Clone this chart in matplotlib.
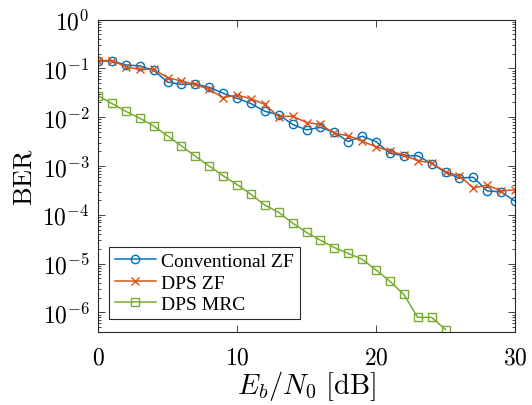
import numpy as np
import matplotlib
matplotlib.use("Agg")
import matplotlib.pyplot as plt
from matplotlib.ticker import LogLocator, NullFormatter, FixedLocator, FuncFormatter

ebn0 = list(range(0, 31))
conv_zf_log = [-0.85, -0.85, -0.93, -0.95, -1.04, -1.28, -1.33, -1.32, -1.39, -1.51, -1.61,
               -1.72, -1.88, -1.95, -2.15, -2.26, -2.21, -2.31, -2.50, -2.39, -2.50,
               -2.74, -2.79, -2.79, -2.95, -3.13, -3.25, -3.23, -3.51, -3.53, -3.72]
dps_zf_log = [-0.84, -0.84, -0.97, -1.02, -1.02, -1.19, -1.26, -1.33, -1.43, -1.60, -1.55,
              -1.62, -1.74, -1.99, -1.98, -2.11, -2.15, -2.33, -2.38, -2.49, -2.61,
              -2.69, -2.78, -2.89, -2.94, -3.12, -3.20, -3.45, -3.39, -3.51, -3.49]
dps_mrc_log = [-1.56, -1.72, -1.88, -2.02, -2.18, -2.38, -2.59, -2.80, -3.00, -3.20, -3.38,
               -3.58, -3.80, -3.95, -4.17, -4.36, -4.52, -4.67, -4.79, -4.91, -5.13,
               -5.36, -5.63, -6.10, -6.10, -6.35]
labels = ["Conventional ZF", "DPS ZF", "DPS MRC"]
colors = ["#0072BD", "#D95319", "#77AC30"]
markers = ["o", "x", "s"]
xticks = [0, 10, 20, 30]
yexps = list(range(-6, 1))

plt.rcParams['font.family'] = ['Liberation Serif', 'DejaVu Serif']
plt.rcParams['mathtext.fontset'] = 'cm'

fig = plt.figure(figsize=(5.32, 4.06), dpi=100)
ax = fig.add_axes([98/532, 1-333/406, 417/532, 312.5/406])

series = [conv_zf_log, dps_zf_log, dps_mrc_log]
for vals, lab, c, m in zip(series, labels, colors, markers):
    x = ebn0[:len(vals)]
    y = 10.0 ** np.array(vals)
    ax.semilogy(x, y, color=c, marker=m, markersize=6 if m != 'x' else 5.5,
                markerfacecolor='none', markeredgewidth=1.0, linewidth=1.1, label=lab)

ax.set_xlim(0, 30)
ax.set_ylim(10**-6.4, 1)
ax.set_xticks(xticks)
ax.xaxis.set_major_formatter(FuncFormatter(lambda v, p: r'$%d$' % round(v)))
ax.yaxis.set_major_locator(FixedLocator([10.0**k for k in yexps]))
ax.yaxis.set_major_formatter(FuncFormatter(lambda v, p: r'$10^{%d}$' % round(np.log10(v))))
ax.yaxis.set_minor_locator(LogLocator(base=10, subs=np.arange(2, 10), numticks=20))
ax.yaxis.set_minor_formatter(NullFormatter())
ax.tick_params(which='both', direction='in', top=True, right=True, colors='#262626',
               labelcolor='black', labelsize=17, width=0.6)
ax.tick_params(which='major', length=5)
ax.tick_params(which='minor', length=2.5)
ax.tick_params(axis='x', which='major', pad=11)
ax.tick_params(axis='y', which='major', pad=6)
for s in ax.spines.values():
    s.set_color('#262626')
    s.set_linewidth(0.8)

ax.set_xlabel(r'$E_b/N_0\ [\mathrm{dB}]$', fontsize=20.5, labelpad=0)
ax.set_ylabel(r'$\mathrm{BER}$', fontsize=19, labelpad=4)

leg = ax.legend(loc='lower left', bbox_to_anchor=(0.026, 0.042), borderaxespad=0,
                fontsize=14, fancybox=False, edgecolor='#262626', framealpha=1,
                handlelength=2.1, handletextpad=0.3, borderpad=0.3, labelspacing=0.2)
leg.get_frame().set_linewidth(0.8)

fig.savefig('out.png', dpi=100)
